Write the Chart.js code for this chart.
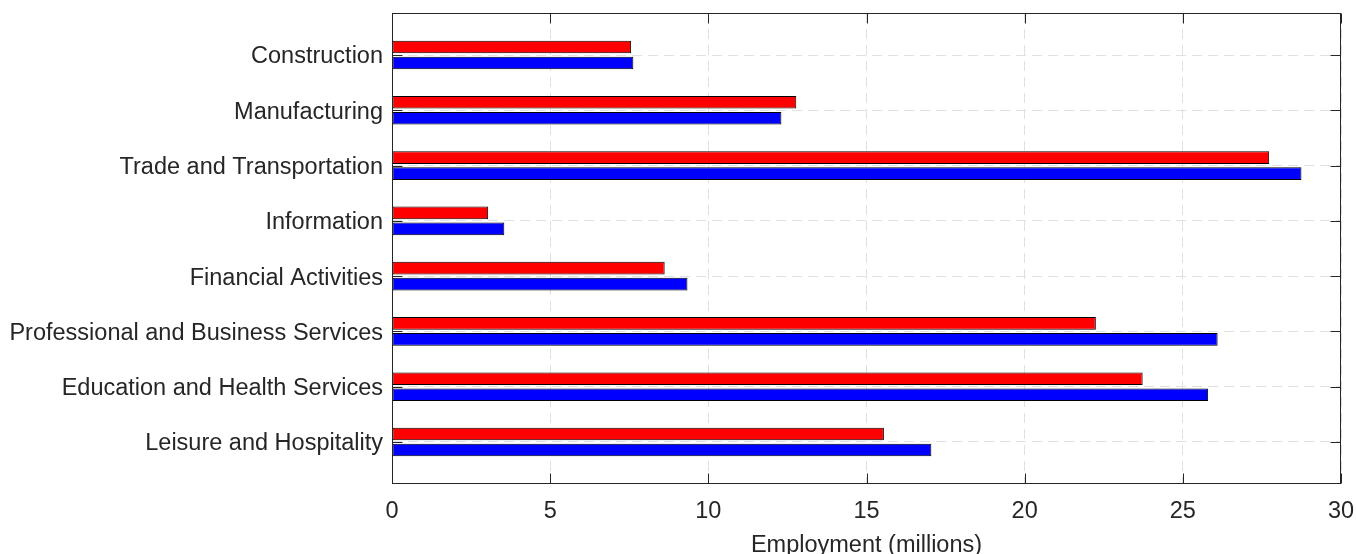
<!DOCTYPE html>
<html>
<head>
<meta charset="utf-8">
<script src="https://cdn.jsdelivr.net/npm/chart.js@4/dist/chart.umd.min.js"></script>
<style>
  html, body { margin: 0; padding: 0; background: #ffffff; }
  #wrap { width: 1356px; height: 554px; }
</style>
</head>
<body>
<div id="wrap"><canvas id="c" width="1356" height="554"></canvas></div>
<script>
// Employment by sector (millions)
const sectors = [
  'Construction',
  'Manufacturing',
  'Trade and Transportation',
  'Information',
  'Financial Activities',
  'Professional and Business Services',
  'Education and Health Services',
  'Leisure and Hospitality'
];
const seriesRed  = [7.56, 12.78, 27.73, 3.04, 8.62, 22.25, 23.73, 15.55];
const seriesBlue = [7.63, 12.31, 28.75, 3.55, 9.34, 26.10, 25.80, 17.05];
const xTickValues = [0, 5, 10, 15, 20, 25, 30];
const xTitle = 'Employment (millions)';

const FONT = "'Liberation Sans', Arial, Helvetica, sans-serif";
const FONT_SIZE = 23.5;
const INK = '#262626';

// Box around the plot area with short inward tick marks on all four sides
const frameAndTicks = {
  id: 'frameAndTicks',
  afterDatasetsDraw(chart) {
    const { ctx, chartArea: a, scales: { x, y } } = chart;
    const L = Math.round(a.left) + 0.5, R = Math.round(a.right) - 0.5;
    const T = Math.round(a.top) + 0.5, B = Math.round(a.bottom) - 0.5;
    const len = 10;
    ctx.save();
    ctx.strokeStyle = INK;
    ctx.lineWidth = 1;
    ctx.beginPath();
    x.ticks.forEach(t => {
      const px = Math.round(x.getPixelForValue(t.value)) + 0.5;
      ctx.moveTo(px, B); ctx.lineTo(px, B - len);
      ctx.moveTo(px, T); ctx.lineTo(px, T + len);
    });
    y.ticks.forEach(t => {
      const py = Math.round(y.getPixelForValue(t.value)) + 0.5;
      ctx.moveTo(L, py); ctx.lineTo(L + len, py);
      ctx.moveTo(R, py); ctx.lineTo(R - len, py);
    });
    ctx.stroke();
    ctx.strokeRect(L, T, R - L, B - T);
    ctx.restore();
  }
};

// Fixed axis sizes; labels are allowed to overhang the plot edges
const fixSize = (prop, size) => s => {
  s[prop] = size;
  s.paddingTop = s.paddingBottom = s.paddingLeft = s.paddingRight = 0;
};

const toPoints = vals => vals.map((v, i) => ({ x: v, y: i + 1 }));

const barStyle = {
  borderColor: '#000000',
  borderWidth: 1,
  borderSkipped: false,
  categoryPercentage: 0.579,
  barPercentage: 0.79
};

new Chart(document.getElementById('c'), {
  type: 'bar',
  data: {
    datasets: [
      Object.assign({ data: toPoints(seriesRed), backgroundColor: '#ff0000' }, barStyle),
      Object.assign({ data: toPoints(seriesBlue), backgroundColor: '#0000ff' }, barStyle)
    ]
  },
  options: {
    indexAxis: 'y',
    responsive: false,
    animation: false,
    layout: { autoPadding: false, padding: { top: 13, right: 15, left: 0, bottom: 0 } },
    plugins: {
      legend: { display: false },
      tooltip: { enabled: false }
    },
    scales: {
      x: {
        type: 'linear',
        position: 'bottom',
        min: 0,
        max: 30,
        offset: false,
        afterBuildTicks: s => { s.ticks = xTickValues.map(v => ({ value: v })); },
        afterFit: fixSize('height', 70),
        ticks: {
          color: INK,
          font: { family: FONT, size: FONT_SIZE },
          padding: 13,
          maxRotation: 0
        },
        grid: { color: '#e0e0e0', drawTicks: false, lineWidth: 1, offset: false },
        border: { display: false, dash: [10, 6] },
        title: {
          display: true,
          text: xTitle,
          color: INK,
          font: { family: FONT, size: FONT_SIZE, lineHeight: 1 },
          padding: { top: 0, bottom: -3 }
        }
      },
      y: {
        type: 'linear',
        position: 'left',
        reverse: true,
        min: 0.24,
        max: 8.76,
        offset: false,
        afterBuildTicks: s => { s.ticks = sectors.map((_, i) => ({ value: i + 1 })); },
        afterFit: fixSize('width', 392),
        ticks: {
          color: INK,
          font: { family: FONT, size: FONT_SIZE },
          padding: 9,
          labelOffset: 2,
          callback: v => sectors[Math.round(v) - 1] || ''
        },
        grid: { color: '#e0e0e0', drawTicks: false, lineWidth: 1, offset: false },
        border: { display: false, dash: [10, 6] }
      }
    }
  },
  plugins: [frameAndTicks]
});
</script>
</body>
</html>
